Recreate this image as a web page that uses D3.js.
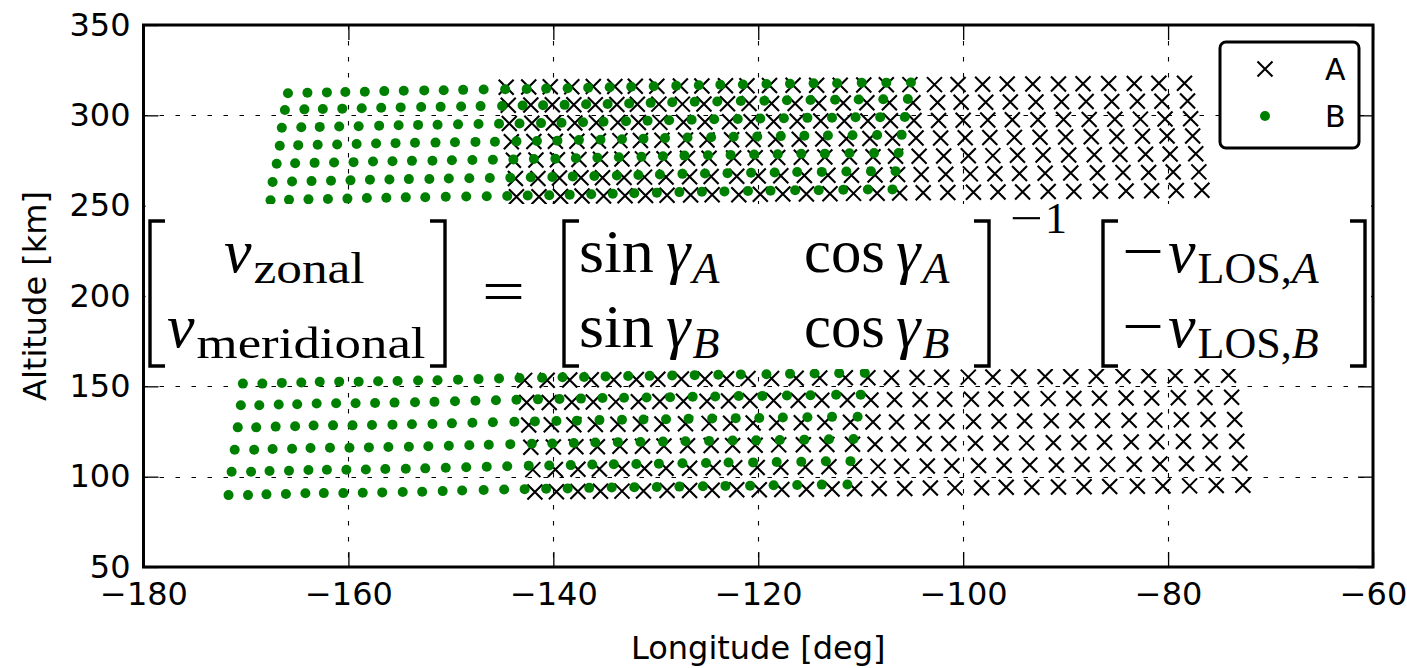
<!DOCTYPE html>
<html>
<head>
<meta charset="utf-8">
<script src="https://cdn.jsdelivr.net/npm/d3@7"></script>
<style>
  html, body { margin: 0; padding: 0; background: #fff; }
  svg { display: block; }
  .tick text { font-family: "DejaVu Sans", sans-serif; }
</style>
</head>
<body>
<svg id="chart" width="1407" height="668"></svg>
<script>
// ---- axis ticks and series names ----
const xTicks = [-180, -160, -140, -120, -100, -80, -60];
const yTicks = [50, 100, 150, 200, 250, 300, 350];
const seriesNames = ["A", "B"];

// ---- series A (crosses), upper altitude band: longitude / altitude per row ----
const upperA_lon = [
  [-144.6,-142.4,-140.3,-138.2,-136.1,-134.0,-132.0,-129.9,-127.6,-125.5,-123.2,-121.1,-118.9,-116.6,-114.3,-112.0,-109.7,-107.5,-105.2,-102.8,-100.5,-98.1,-95.7,-93.2,-90.7,-88.3,-85.8,-83.3,-80.9,-78.4],
  [-144.4,-142.2,-140.1,-138.0,-135.9,-133.8,-131.8,-129.7,-127.4,-125.3,-123.0,-120.9,-118.7,-116.4,-114.1,-111.7,-109.4,-107.2,-104.9,-102.5,-100.2,-97.8,-95.4,-92.9,-90.4,-88.0,-85.5,-83.0,-80.6,-78.1],
  [-144.3,-142.1,-140.0,-137.9,-135.8,-133.7,-131.7,-129.6,-127.3,-125.2,-122.8,-120.7,-118.5,-116.2,-113.9,-111.6,-109.3,-107.1,-104.8,-102.4,-100.0,-97.6,-95.2,-92.7,-90.2,-87.7,-85.2,-82.7,-80.3,-77.8],
  [-144.1,-141.9,-139.8,-137.7,-135.6,-133.5,-131.5,-129.4,-127.1,-125.0,-122.6,-120.5,-118.3,-116.0,-113.7,-111.4,-109.1,-106.9,-104.6,-102.2,-99.8,-97.4,-95.0,-92.5,-90.0,-87.5,-85.0,-82.5,-80.1,-77.6],
  [-143.9,-141.7,-139.6,-137.5,-135.4,-133.3,-131.3,-129.2,-126.9,-124.8,-122.4,-120.3,-118.1,-115.8,-113.5,-111.1,-108.8,-106.6,-104.3,-101.9,-99.5,-97.1,-94.7,-92.2,-89.7,-87.2,-84.7,-82.2,-79.8,-77.3],
  [-143.7,-141.5,-139.4,-137.3,-135.2,-133.1,-131.1,-129.0,-126.7,-124.6,-122.1,-120.0,-117.8,-115.5,-113.2,-110.9,-108.6,-106.4,-104.1,-101.7,-99.3,-96.9,-94.5,-92.0,-89.5,-86.9,-84.4,-81.9,-79.5,-77.0],
  [-143.6,-141.4,-139.3,-137.2,-135.1,-133.0,-131.0,-128.9,-126.6,-124.5,-121.9,-119.8,-117.6,-115.3,-113.0,-110.7,-108.4,-106.2,-103.9,-101.5,-99.0,-96.6,-94.2,-91.7,-89.2,-86.6,-84.1,-81.6,-79.2,-76.7]
];
const upperA_alt = [
  [315.6,315.7,315.8,315.8,315.9,316.0,316.1,316.1,316.2,316.3,316.4,316.4,316.5,316.6,316.7,316.7,316.8,316.9,317.0,317.0,317.1,317.2,317.3,317.3,317.4,317.5,317.6,317.6,317.7,317.8],
  [305.6,305.7,305.8,305.8,305.9,306.0,306.1,306.2,306.2,306.3,306.4,306.5,306.6,306.6,306.7,306.8,306.9,307.0,307.0,307.1,307.2,307.3,307.4,307.4,307.5,307.6,307.7,307.8,307.8,307.9],
  [295.5,295.6,295.7,295.8,295.9,296.0,296.0,296.1,296.2,296.3,296.4,296.5,296.6,296.7,296.8,296.8,296.9,297.0,297.1,297.2,297.3,297.4,297.5,297.6,297.7,297.7,297.8,297.9,298.0,298.1],
  [285.4,285.5,285.6,285.7,285.8,286.0,286.1,286.2,286.3,286.4,286.5,286.6,286.7,286.8,286.9,287.1,287.2,287.3,287.4,287.5,287.6,287.7,287.8,287.9,288.0,288.2,288.3,288.4,288.5,288.6],
  [275.2,275.3,275.4,275.6,275.7,275.8,275.9,276.0,276.2,276.3,276.4,276.5,276.6,276.8,276.9,277.0,277.1,277.3,277.4,277.5,277.6,277.7,277.9,278.0,278.1,278.2,278.3,278.5,278.6,278.7],
  [265.0,265.1,265.3,265.4,265.5,265.6,265.8,265.9,266.0,266.1,266.3,266.4,266.5,266.7,266.8,266.9,267.0,267.2,267.3,267.4,267.6,267.7,267.8,267.9,268.1,268.2,268.3,268.4,268.6,268.7],
  [254.9,255.0,255.1,255.3,255.4,255.5,255.6,255.8,255.9,256.0,256.1,256.3,256.4,256.5,256.6,256.8,256.9,257.0,257.1,257.3,257.4,257.5,257.6,257.8,257.9,258.0,258.1,258.3,258.4,258.5]
];

// ---- series B (dots), upper altitude band ----
const upperB_lon = [
  [-165.9,-164.0,-162.1,-160.3,-158.4,-156.5,-154.6,-152.6,-150.7,-148.8,-146.8,-144.7,-142.6,-140.7,-138.6,-136.6,-134.5,-132.4,-130.2,-128.0,-125.8,-123.7,-121.5,-119.2,-116.9,-114.6,-112.3,-109.9,-107.5,-105.1],
  [-166.2,-164.3,-162.5,-160.6,-158.7,-156.8,-154.9,-152.9,-151.0,-149.0,-147.1,-145.0,-143.0,-141.0,-138.9,-136.8,-134.7,-132.6,-130.5,-128.4,-126.2,-124.0,-121.7,-119.4,-117.2,-114.9,-112.5,-110.2,-107.8,-105.4],
  [-166.5,-164.6,-162.8,-160.9,-159.0,-157.0,-155.1,-153.2,-151.3,-149.3,-147.3,-145.3,-143.3,-141.2,-139.2,-137.1,-135.1,-132.9,-130.8,-128.7,-126.5,-124.3,-122.0,-119.8,-117.5,-115.2,-112.8,-110.5,-108.1,-105.7],
  [-166.7,-164.9,-163.0,-161.1,-159.2,-157.3,-155.4,-153.5,-151.5,-149.6,-147.6,-145.7,-143.6,-141.6,-139.6,-137.5,-135.4,-133.3,-131.2,-129.1,-126.9,-124.6,-122.4,-120.1,-117.8,-115.5,-113.2,-110.8,-108.4,-106.0],
  [-167.0,-165.2,-163.3,-161.4,-159.5,-157.6,-155.7,-153.8,-151.8,-149.9,-147.9,-145.9,-143.9,-141.9,-139.8,-137.8,-135.7,-133.6,-131.4,-129.3,-127.2,-124.9,-122.7,-120.4,-118.1,-115.8,-113.5,-111.1,-108.7,-106.3],
  [-167.4,-165.5,-163.6,-161.7,-159.8,-157.9,-156.0,-154.1,-152.1,-150.2,-148.2,-146.2,-144.2,-142.2,-140.1,-138.1,-136.0,-133.8,-131.7,-129.6,-127.4,-125.2,-123.0,-120.7,-118.4,-116.2,-113.8,-111.4,-109.0,-106.6],
  [-167.6,-165.8,-163.9,-162.0,-160.1,-158.2,-156.3,-154.4,-152.5,-150.5,-148.5,-146.5,-144.5,-142.5,-140.4,-138.4,-136.3,-134.2,-132.1,-129.9,-127.7,-125.5,-123.3,-121.0,-118.8,-116.4,-114.1,-111.7,-109.3,-106.9]
];
const upperB_alt = [
  [312.2,312.5,312.7,312.9,313.1,313.4,313.6,313.8,313.9,314.1,314.3,314.4,314.6,314.8,315.0,315.3,315.5,315.8,316.1,316.4,316.7,316.9,317.1,317.3,317.5,317.7,317.8,318.0,318.1,318.2],
  [303.0,303.3,303.5,303.7,303.9,304.2,304.4,304.6,304.7,304.9,305.1,305.2,305.4,305.6,305.8,306.1,306.3,306.6,306.9,307.2,307.5,307.7,307.9,308.1,308.3,308.5,308.6,308.8,308.9,309.0],
  [293.1,293.4,293.6,293.8,294.0,294.3,294.5,294.7,294.8,295.0,295.2,295.3,295.5,295.7,295.9,296.2,296.4,296.7,297.0,297.3,297.6,297.8,298.0,298.2,298.4,298.6,298.7,298.9,299.0,299.1],
  [283.2,283.5,283.7,283.9,284.1,284.4,284.6,284.8,284.9,285.1,285.3,285.4,285.6,285.8,286.0,286.3,286.5,286.8,287.1,287.4,287.7,287.9,288.1,288.3,288.5,288.7,288.8,289.0,289.1,289.2],
  [273.2,273.5,273.7,273.9,274.1,274.4,274.6,274.8,274.9,275.1,275.3,275.4,275.6,275.8,276.0,276.3,276.5,276.8,277.1,277.4,277.7,277.9,278.1,278.3,278.5,278.7,278.8,279.0,279.1,279.2],
  [263.1,263.4,263.6,263.8,264.0,264.3,264.5,264.7,264.8,265.0,265.2,265.3,265.5,265.7,265.9,266.2,266.4,266.7,267.0,267.3,267.6,267.8,268.0,268.2,268.4,268.6,268.7,268.9,269.0,269.1],
  [253.0,253.3,253.5,253.7,253.9,254.2,254.4,254.6,254.7,254.9,255.1,255.2,255.4,255.6,255.8,256.1,256.3,256.6,256.9,257.2,257.5,257.7,257.9,258.1,258.3,258.5,258.6,258.8,258.9,259.0]
];

// ---- series A (crosses), lower altitude band ----
const lowerA_lon = [
  [-142.8,-140.6,-138.4,-136.3,-134.1,-131.9,-129.8,-127.5,-125.2,-123.1,-121.0,-118.7,-116.3,-114.0,-111.5,-109.3,-107.0,-104.5,-102.1,-99.5,-97.1,-94.6,-92.0,-89.5,-87.0,-84.4,-81.9,-79.3,-76.7,-74.1],
  [-142.6,-140.4,-138.2,-136.1,-133.9,-131.7,-129.6,-127.3,-125.0,-122.9,-120.8,-118.5,-116.1,-113.8,-111.3,-109.0,-106.7,-104.2,-101.8,-99.2,-96.8,-94.3,-91.7,-89.2,-86.7,-84.1,-81.6,-79.0,-76.4,-73.8],
  [-142.4,-140.2,-138.0,-135.9,-133.7,-131.5,-129.4,-127.1,-124.8,-122.7,-120.5,-118.2,-115.8,-113.5,-111.0,-108.8,-106.5,-104.0,-101.6,-99.0,-96.5,-94.0,-91.4,-88.9,-86.4,-83.8,-81.3,-78.7,-76.1,-73.5],
  [-142.2,-140.0,-137.8,-135.7,-133.5,-131.3,-129.2,-126.9,-124.6,-122.5,-120.3,-118.0,-115.6,-113.3,-110.8,-108.6,-106.3,-103.8,-101.4,-98.8,-96.3,-93.8,-91.2,-88.7,-86.2,-83.6,-81.1,-78.5,-75.9,-73.3],
  [-142.0,-139.8,-137.6,-135.5,-133.3,-131.1,-129.0,-126.7,-124.4,-122.3,-120.1,-117.8,-115.4,-113.1,-110.6,-108.3,-106.0,-103.5,-101.1,-98.5,-96.0,-93.5,-90.9,-88.4,-85.9,-83.3,-80.8,-78.2,-75.6,-73.0],
  [-141.8,-139.7,-137.6,-135.4,-133.3,-131.2,-128.9,-126.7,-124.5,-122.1,-119.9,-117.7,-115.3,-112.8,-110.6,-108.2,-105.7,-103.2,-100.8,-98.2,-95.8,-93.3,-90.7,-88.2,-85.7,-83.0,-80.5,-77.9,-75.3,-72.7]
];
const lowerA_alt = [
  [153.3,153.4,153.5,153.6,153.7,153.8,153.9,154.0,154.1,154.2,154.3,154.4,154.5,154.6,154.7,154.7,154.8,154.9,155.0,155.1,155.2,155.3,155.4,155.5,155.6,155.7,155.8,155.9,156.0,156.1],
  [141.0,141.1,141.2,141.3,141.4,141.5,141.6,141.7,141.8,141.9,142.0,142.1,142.2,142.3,142.4,142.5,142.6,142.7,142.8,142.9,143.0,143.1,143.2,143.3,143.4,143.5,143.6,143.7,143.8,143.9],
  [128.6,128.7,128.8,128.9,129.0,129.1,129.2,129.3,129.5,129.6,129.7,129.8,129.9,130.0,130.1,130.2,130.3,130.4,130.5,130.6,130.7,130.8,130.9,131.0,131.1,131.2,131.3,131.5,131.6,131.7],
  [116.3,116.4,116.5,116.6,116.8,116.9,117.0,117.1,117.2,117.3,117.4,117.6,117.7,117.8,117.9,118.0,118.1,118.2,118.4,118.5,118.6,118.7,118.8,118.9,119.0,119.2,119.3,119.4,119.5,119.6],
  [103.9,104.0,104.1,104.3,104.4,104.5,104.6,104.7,104.9,105.0,105.1,105.2,105.3,105.5,105.6,105.7,105.8,105.9,106.1,106.2,106.3,106.4,106.5,106.7,106.8,106.9,107.0,107.1,107.3,107.4],
  [91.5,91.6,91.8,91.9,92.0,92.1,92.3,92.4,92.5,92.7,92.8,92.9,93.0,93.2,93.3,93.4,93.5,93.7,93.8,93.9,94.1,94.2,94.3,94.4,94.6,94.7,94.8,94.9,95.1,95.2]
];

// ---- series B (dots), lower altitude band ----
const lowerB_lon = [
  [-170.3,-168.4,-166.5,-164.6,-162.8,-160.9,-159.0,-157.1,-155.2,-153.2,-151.3,-149.3,-147.3,-145.3,-143.3,-141.1,-139.1,-137.0,-134.9,-132.7,-130.6,-128.4,-126.2,-123.9,-121.7,-119.2,-116.9,-114.5,-112.1,-109.6],
  [-170.5,-168.7,-166.8,-165.0,-163.1,-161.2,-159.3,-157.4,-155.5,-153.5,-151.6,-149.6,-147.6,-145.6,-143.6,-141.5,-139.4,-137.3,-135.2,-133.1,-130.9,-128.6,-126.4,-124.2,-121.9,-119.6,-117.2,-114.9,-112.4,-110.0],
  [-170.8,-169.0,-167.1,-165.2,-163.4,-161.5,-159.6,-157.7,-155.7,-153.8,-151.8,-149.9,-147.9,-145.9,-143.8,-141.8,-139.7,-137.7,-135.5,-133.3,-131.2,-129.0,-126.8,-124.5,-122.2,-119.9,-117.6,-115.2,-112.8,-110.3],
  [-171.1,-169.2,-167.4,-165.5,-163.7,-161.8,-159.9,-158.0,-156.1,-154.1,-152.2,-150.2,-148.2,-146.3,-144.2,-142.1,-140.1,-138.0,-135.9,-133.7,-131.5,-129.3,-127.1,-124.8,-122.5,-120.2,-117.9,-115.5,-113.1,-110.7],
  [-171.4,-169.5,-167.7,-165.8,-163.9,-162.1,-160.2,-158.3,-156.4,-154.4,-152.5,-150.5,-148.5,-146.5,-144.5,-142.4,-140.4,-138.3,-136.2,-134.1,-131.9,-129.7,-127.4,-125.1,-122.9,-120.5,-118.2,-115.8,-113.4,-111.0],
  [-171.7,-169.8,-168.0,-166.1,-164.2,-162.4,-160.5,-158.6,-156.7,-154.7,-152.8,-150.8,-148.9,-146.8,-144.8,-142.8,-140.7,-138.6,-136.5,-134.3,-132.1,-129.9,-127.7,-125.4,-123.2,-120.8,-118.5,-116.2,-113.8,-111.3]
];
const lowerB_alt = [
  [151.5,151.5,151.9,152.1,152.5,152.6,152.6,152.8,153.0,153.2,153.4,153.7,154.0,154.3,154.6,154.8,155.0,155.2,155.5,155.7,155.8,156.0,156.2,156.4,156.6,156.7,156.9,157.1,157.3,157.4],
  [139.5,139.5,139.9,140.1,140.5,140.6,140.6,140.8,141.0,141.2,141.4,141.7,142.0,142.3,142.6,142.8,143.0,143.2,143.5,143.7,143.8,144.0,144.2,144.4,144.6,144.7,144.9,145.1,145.3,145.4],
  [127.3,127.3,127.7,127.9,128.3,128.4,128.4,128.6,128.8,129.0,129.2,129.5,129.8,130.1,130.4,130.6,130.8,131.0,131.3,131.5,131.6,131.8,132.0,132.2,132.4,132.5,132.7,132.9,133.1,133.2],
  [114.9,114.9,115.3,115.5,115.9,116.0,116.0,116.2,116.4,116.6,116.8,117.1,117.4,117.7,118.0,118.2,118.4,118.6,118.9,119.1,119.2,119.4,119.6,119.8,120.0,120.1,120.3,120.5,120.7,120.8],
  [102.7,102.7,103.1,103.3,103.7,103.8,103.8,104.0,104.2,104.4,104.6,104.9,105.2,105.5,105.8,106.0,106.2,106.4,106.7,106.9,107.0,107.2,107.4,107.6,107.8,107.9,108.1,108.3,108.5,108.6],
  [89.8,89.8,90.2,90.4,90.8,90.9,90.9,91.1,91.3,91.5,91.7,92.0,92.3,92.6,92.9,93.1,93.3,93.5,93.8,94.0,94.1,94.3,94.5,94.7,94.9,95.0,95.2,95.4,95.6,95.7]
];

// ---- layout ----
const W = 1407, H = 668;
const plot = { left: 143.5, right: 1373, top: 25, bottom: 567 };
const TICK = 15;
const FONT = '"DejaVu Sans", "Liberation Sans", sans-serif';
const SERIF = '"Liberation Serif", "DejaVu Serif", serif';
const GREEN = "#008000";
const LABEL_SIZE = 32;

const svg = d3.select("#chart");
const x = d3.scaleLinear().domain([-180, -60]).range([plot.left, plot.right]);
const y = d3.scaleLinear().domain([50, 350]).range([plot.bottom, plot.top]);

function toPoints(lonRows, altRows) {
  return lonRows.flatMap((row, i) => row.map((lon, j) => ({ lon, alt: altRows[i][j] })));
}
const pointsA = toPoints(upperA_lon, upperA_alt).concat(toPoints(lowerA_lon, lowerA_alt));
const pointsB = toPoints(upperB_lon, upperB_alt).concat(toPoints(lowerB_lon, lowerB_alt));

svg.append("defs").append("clipPath").attr("id", "plotClip")
  .append("rect").attr("x", plot.left).attr("y", plot.top)
  .attr("width", plot.right - plot.left).attr("height", plot.bottom - plot.top);

// grid
const grid = svg.append("g").attr("stroke", "#000").attr("stroke-width", 1.1)
  .attr("stroke-dasharray", "4.5,11.5");
grid.selectAll("line.gx").data(xTicks.slice(1, -1)).join("line")
  .attr("x1", d => Math.round(x(d)) + 0.5).attr("x2", d => Math.round(x(d)) + 0.5)
  .attr("y1", plot.top).attr("y2", plot.bottom);
grid.selectAll("line.gy").data(yTicks.slice(1, -1)).join("line")
  .attr("y1", d => Math.round(y(d)) + 0.5).attr("y2", d => Math.round(y(d)) + 0.5)
  .attr("x1", plot.left).attr("x2", plot.right);

// tick marks (inward) on all four sides
const tickG = svg.append("g");
function styleAxis(g) {
  g.select(".domain").remove();
  g.selectAll(".tick line").attr("stroke", "#000").attr("stroke-width", 1.3);
  g.selectAll(".tick text").attr("font-size", LABEL_SIZE).attr("fill", "#000");
}
tickG.append("g").attr("transform", `translate(0,${plot.bottom})`)
  .call(d3.axisBottom(x).tickValues(xTicks).tickSizeInner(-TICK).tickSizeOuter(0).tickPadding(15))
  .call(styleAxis);
tickG.append("g").attr("transform", `translate(0,${plot.top})`)
  .call(d3.axisTop(x).tickValues(xTicks).tickSizeInner(-TICK).tickSizeOuter(0).tickFormat(""))
  .call(styleAxis);
tickG.append("g").attr("transform", `translate(${plot.left},0)`)
  .call(d3.axisLeft(y).tickValues(yTicks).tickSizeInner(-TICK).tickSizeOuter(0).tickPadding(13))
  .call(styleAxis);
tickG.append("g").attr("transform", `translate(${plot.right},0)`)
  .call(d3.axisRight(y).tickValues(yTicks).tickSizeInner(-TICK).tickSizeOuter(0).tickFormat(""))
  .call(styleAxis);

// markers
const crossPath = "M-7.5,-7.5L7.5,7.5M-7.5,7.5L7.5,-7.5";
const marks = svg.append("g").attr("clip-path", "url(#plotClip)");
marks.append("g").selectAll("path").data(pointsA).join("path")
  .attr("d", crossPath)
  .attr("transform", d => `translate(${x(d.lon)},${y(d.alt)})`)
  .attr("stroke", "#000").attr("stroke-width", 2.1).attr("fill", "none");
marks.append("g").selectAll("circle").data(pointsB).join("circle")
  .attr("cx", d => x(d.lon)).attr("cy", d => y(d.alt)).attr("r", 5)
  .attr("fill", GREEN);

// equation panel (white background across the plot)
const eq = svg.append("g");
eq.append("rect").attr("x", plot.left + 2).attr("y", 204)
  .attr("width", plot.right - plot.left - 4).attr("height", 165).attr("fill", "#fff");

function bracket(xs, open) {
  const top = 221, bot = 366, w = 15;
  const d = open
    ? `M${xs + w},${top}H${xs}V${bot}H${xs + w}`
    : `M${xs - w},${top}H${xs}V${bot}H${xs - w}`;
  eq.append("path").attr("d", d).attr("fill", "none").attr("stroke", "#000").attr("stroke-width", 3.4);
}
bracket(150, true); bracket(445, false);
bracket(564, true); bracket(989, false);
bracket(1103, true); bracket(1365, false);

function mtext(xp, yp, parts) {
  const t = eq.append("text").attr("x", xp).attr("y", yp)
    .attr("font-family", SERIF).attr("fill", "#000");
  parts.forEach(p => {
    const s = t.append("tspan").text(p.t).attr("font-size", p.size || 62);
    if (p.it) s.attr("font-style", "italic");
    if (p.dy) s.attr("dy", p.dy);
    if (p.dx) s.attr("dx", p.dx);
    if (p.len) s.attr("textLength", p.len).attr("lengthAdjust", "spacingAndGlyphs");
  });
  return t;
}
const R1 = 272, R2 = 347, SUB = 11, SS = 44;
// left vector
mtext(224, R1, [{ t: "v", it: true }, { t: "zonal", size: SS, dy: SUB, dx: 2, len: 111 }]);
mtext(167, R2, [{ t: "v", it: true }, { t: "meridional", size: SS, dy: SUB, dx: 2, len: 229 }]);
// equals sign
mtext(482, 312, [{ t: "=", size: 62, len: 43 }]);
// matrix
mtext(579, R1, [{ t: "sin", len: 75 }, { t: "γ", it: true, dx: 12 }, { t: "A", it: true, size: SS, dy: SUB, dx: 2 }]);
mtext(579, R2, [{ t: "sin", len: 75 }, { t: "γ", it: true, dx: 12 }, { t: "B", it: true, size: SS, dy: SUB, dx: 2 }]);
mtext(804, R1, [{ t: "cos", len: 81 }, { t: "γ", it: true, dx: 11 }, { t: "A", it: true, size: SS, dy: SUB, dx: 2 }]);
mtext(804, R2, [{ t: "cos", len: 81 }, { t: "γ", it: true, dx: 11 }, { t: "B", it: true, size: SS, dy: SUB, dx: 2 }]);
mtext(1010, 233, [{ t: "−", size: SS, len: 33 }, { t: "1", size: SS, dx: 2 }]);
// line-of-sight vector
mtext(1122, R1, [{ t: "−", len: 42 }, { t: "v", it: true, dx: 4 }, { t: "LOS,", size: SS, dy: SUB, dx: 2 }, { t: "A", it: true, size: SS }]);
mtext(1122, R2, [{ t: "−", len: 42 }, { t: "v", it: true, dx: 4 }, { t: "LOS,", size: SS, dy: SUB, dx: 2 }, { t: "B", it: true, size: SS }]);

// spines
svg.append("rect").attr("x", plot.left).attr("y", plot.top)
  .attr("width", plot.right - plot.left).attr("height", plot.bottom - plot.top)
  .attr("fill", "none").attr("stroke", "#000").attr("stroke-width", 3);

// axis labels
svg.append("text").attr("x", (plot.left + plot.right) / 2).attr("y", 659)
  .attr("text-anchor", "middle").attr("font-family", FONT).attr("font-size", LABEL_SIZE)
  .text("Longitude [deg]");
svg.append("text").attr("transform", `translate(46,${(plot.top + plot.bottom) / 2}) rotate(-90)`)
  .attr("text-anchor", "middle").attr("font-family", FONT).attr("font-size", LABEL_SIZE)
  .text("Altitude [km]");

// legend
const lg = svg.append("g");
lg.append("rect").attr("x", 1220).attr("y", 42).attr("width", 139).attr("height", 106)
  .attr("rx", 6).attr("fill", "#fff").attr("stroke", "#000").attr("stroke-width", 3);
lg.append("path").attr("d", crossPath).attr("transform", "translate(1265,69)")
  .attr("stroke", "#000").attr("stroke-width", 2.1).attr("fill", "none");
lg.append("circle").attr("cx", 1265).attr("cy", 116).attr("r", 5).attr("fill", GREEN);
lg.selectAll("text").data(seriesNames).join("text")
  .attr("x", 1325).attr("y", (d, i) => 80 + i * 47)
  .attr("font-family", FONT).attr("font-size", 30).text(d => d);
</script>
</body>
</html>
